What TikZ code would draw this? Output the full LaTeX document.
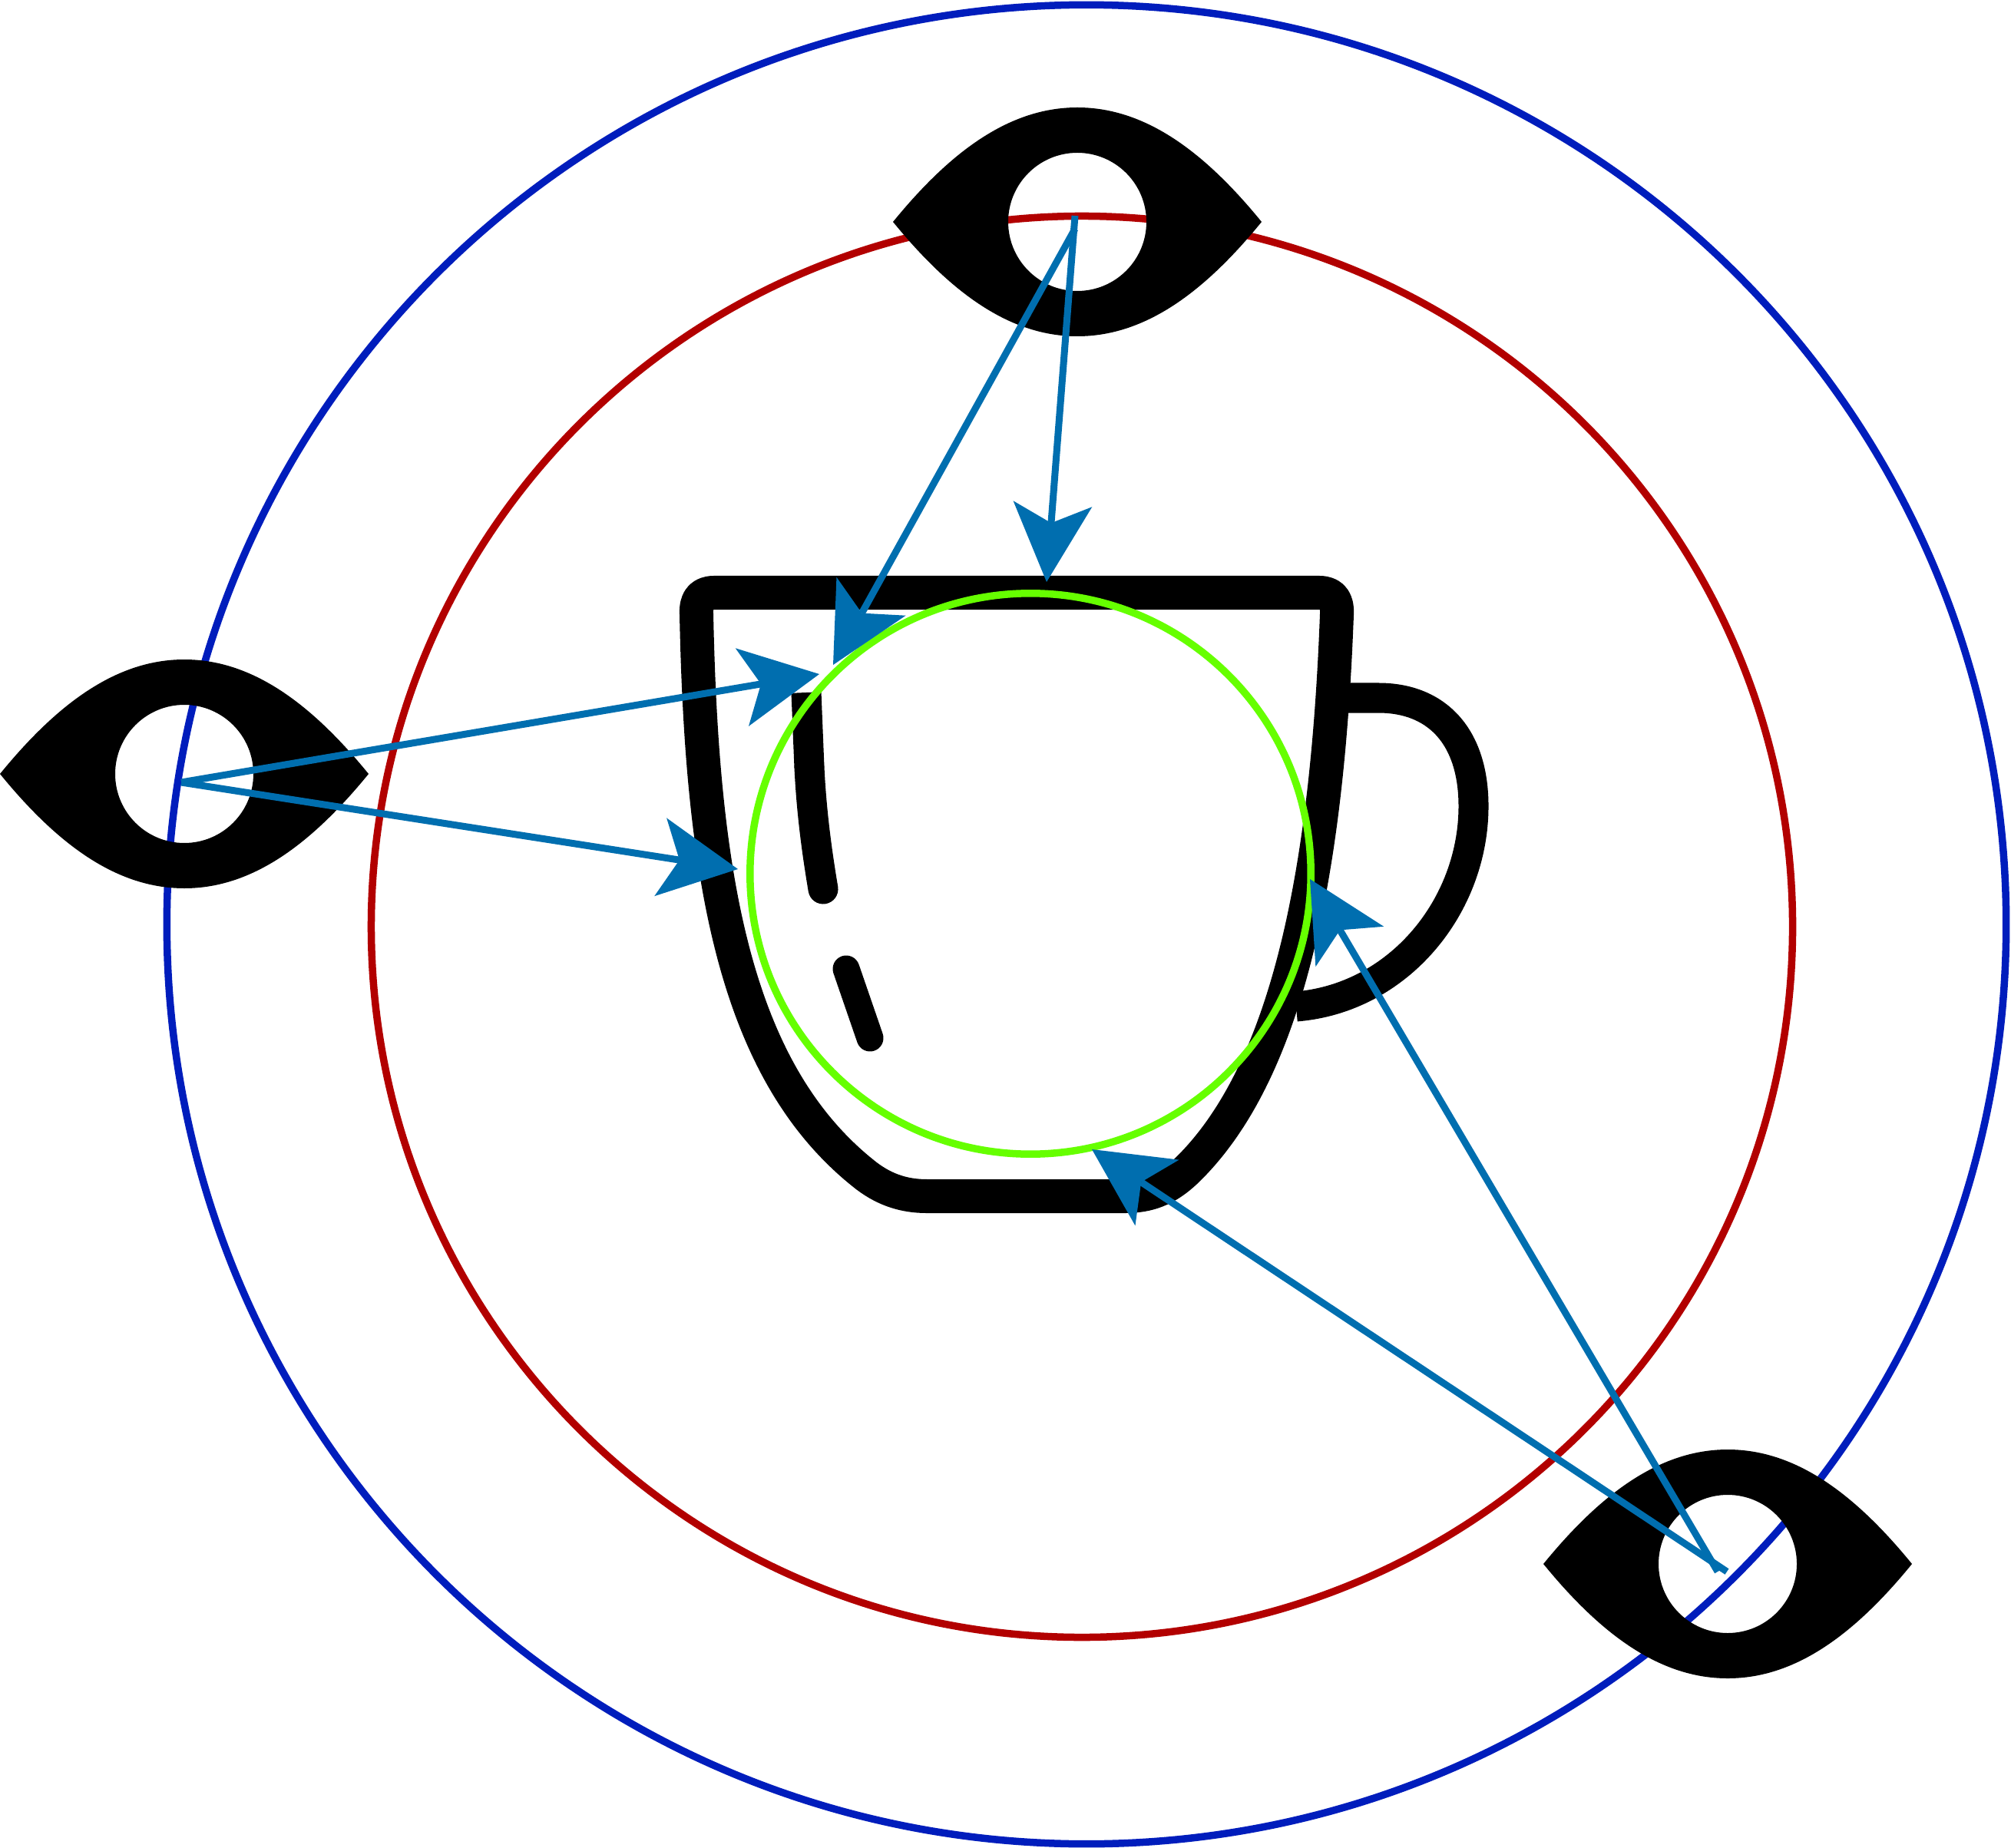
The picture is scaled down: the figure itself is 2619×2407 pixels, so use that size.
\documentclass[tikz,border=0pt]{standalone}
\usetikzlibrary{arrows.meta}
\definecolor{ringblue}{HTML}{001DBC}
\definecolor{ringred}{HTML}{B20000}
\definecolor{ringgreen}{HTML}{66FF00}
\definecolor{rayblue}{HTML}{006EAF}
\tikzset{
  ring/.style={circle,draw=#1,line width=0.095cm,minimum size=0pt,inner sep=0pt,outer sep=0pt,fill=none},
  ray/.style={draw=rayblue,line width=0.09cm,-{Stealth[length=1.02cm,width=1.03cm,inset=0.25cm,line width=0pt]}},
  cupline/.style={draw=black,line width=0.44cm,line join=round},
  eye/.pic={
    \fill[black,even odd rule]
      (-240,0) .. controls (-165,-92) and (-88,-149) .. (0,-149)
      .. controls (88,-149) and (165,-92) .. (240,0)
      .. controls (165,92) and (88,149) .. (0,149)
      .. controls (-88,149) and (-165,92) .. (-240,0) -- cycle
      (0,0) circle[radius=90];
  }
}
\begin{document}
\begin{tikzpicture}[x=0.01cm,y=-0.01cm]
\useasboundingbox (0,0) rectangle (2619,2407);
% rings
\node[ring=ringblue,minimum size=23.94cm] (outerring) at (1415,1204) {};
\node[ring=ringred,minimum size=18.5cm] (innerring) at (1409,1207) {};
% cup body
\draw[cupline] (907,800) .. controls (914,1150) and (959,1400) .. (1129,1532)
  .. controls (1153,1550) and (1178,1558) .. (1207,1558) -- (1465,1558)
  .. controls (1495,1558) and (1519,1550) .. (1546,1524)
  .. controls (1673,1400) and (1728,1150) .. (1741,800)
  .. controls (1742,782) and (1735,772) .. (1718,772) -- (930,772)
  .. controls (913,772) and (906,782) .. (907,800) -- cycle;
% handle
\draw[cupline,line width=0.39cm] (1745,909) -- (1795,909) .. controls (1872,909) and (1919,960) .. (1919,1050)
  .. controls (1919,1180) and (1822,1300) .. (1688,1311);
% highlights
\draw[cupline,line width=0.39cm] (1050,902) -- (1054,1000);
\draw[cupline,line width=0.39cm,line cap=round] (1054,1000) .. controls (1057,1060) and (1064,1110) .. (1072,1158);
\draw[cupline,line width=0.35cm,line cap=round] (1102,1262) -- (1133,1352);
% green ring
\node[ring=ringgreen,minimum size=7.3cm] (target) at (1342,1138) {};
% eyes
\pic (eyetop) at (1403,289) {eye};
\pic (eyeleft) at (240,1008) {eye};
\pic (eyeright) at (2250,2037) {eye};
% ray end points
\coordinate (topstart) at (1400,281);
\coordinate (topstartb) at (1400,298);
\coordinate (leftstart) at (236,1019);
\coordinate (rightstarta) at (2237,2047);
\coordinate (rightstartb) at (2249,2047);
\coordinate (tipa) at (1363,758);
\coordinate (tipb) at (1085,866);
\coordinate (tipc) at (1067,878);
\coordinate (tipd) at (961,1132);
\coordinate (tipe) at (1706,1145);
\coordinate (tipf) at (1422,1497);
% rays
\draw[ray] (topstart) -- (tipa);
\draw[ray] (topstartb) -- (tipb);
\draw[ray] (leftstart) -- (tipc);
\draw[ray] (leftstart) -- (tipd);
\draw[ray] (rightstarta) -- (tipe);
\draw[ray] (rightstartb) -- (tipf);
\end{tikzpicture}
\end{document}
